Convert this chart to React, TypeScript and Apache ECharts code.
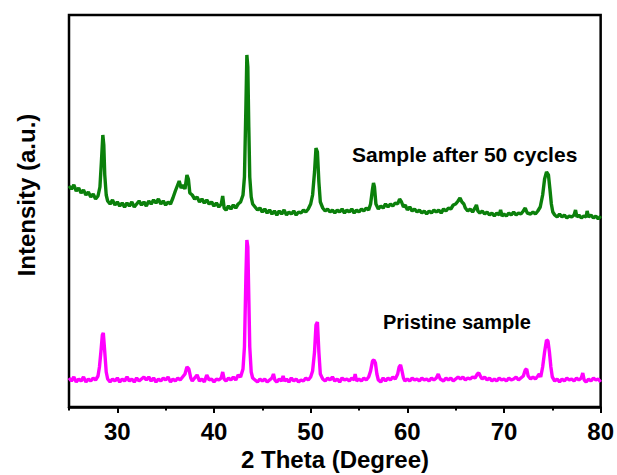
import React, { useEffect, useRef } from "react";
import * as echarts from "echarts";

// 2θ (degree) / intensity (a.u.) pairs
const afterCycles: [number, number][] = [
  [25.0, 221], [25.25, 218], [25.5, 222], [25.75, 216], [26.0, 219], [26.25, 214], [26.5, 217], [26.75, 212],
  [27.0, 215], [27.25, 210], [27.5, 213], [27.75, 208], [28.0, 211], [28.2, 220], [28.35, 245], [28.5, 272],
  [28.6, 262], [28.7, 232], [28.85, 212], [29.0, 206], [29.25, 203], [29.5, 207], [29.75, 202], [30.0, 205],
  [30.25, 201], [30.5, 204], [30.75, 200], [31.0, 204], [31.25, 201], [31.5, 205], [31.75, 200], [32.0, 203],
  [32.25, 206], [32.5, 202], [32.75, 205], [33.0, 201], [33.25, 206], [33.5, 203], [33.75, 207], [34.0, 204],
  [34.25, 208], [34.5, 203], [34.75, 206], [35.0, 202], [35.25, 205], [35.5, 203], [35.75, 209], [36.0, 216],
  [36.2, 221], [36.4, 226], [36.6, 219], [36.8, 222], [37.0, 218], [37.2, 232], [37.35, 228], [37.5, 214],
  [37.75, 212], [38.0, 208], [38.25, 210], [38.5, 205], [38.75, 208], [39.0, 204], [39.25, 207], [39.5, 203],
  [39.75, 205], [40.0, 201], [40.25, 204], [40.5, 200], [40.75, 203], [40.9, 211], [41.05, 199], [41.25, 197],
  [41.5, 201], [41.75, 198], [42.0, 202], [42.25, 199], [42.5, 203], [42.75, 205], [43.0, 212], [43.15, 230],
  [43.3, 300], [43.4, 352], [43.5, 340], [43.6, 280], [43.7, 230], [43.85, 210], [44.0, 203], [44.25, 200],
  [44.5, 197], [44.75, 199], [45.0, 195], [45.25, 198], [45.5, 194], [45.75, 197], [46.0, 193], [46.25, 196],
  [46.5, 192], [46.75, 196], [47.0, 193], [47.25, 197], [47.5, 192], [47.75, 195], [48.0, 193], [48.25, 196],
  [48.5, 192], [48.75, 195], [49.0, 194], [49.25, 197], [49.5, 195], [49.75, 198], [50.0, 203], [50.2, 212],
  [50.4, 235], [50.55, 259], [50.7, 255], [50.85, 225], [51.0, 205], [51.25, 199], [51.5, 196], [51.75, 198],
  [52.0, 195], [52.25, 197], [52.5, 194], [52.75, 197], [53.0, 195], [53.25, 198], [53.5, 194], [53.75, 197],
  [54.0, 195], [54.25, 198], [54.5, 194], [54.75, 197], [55.0, 195], [55.25, 198], [55.5, 196], [55.75, 199],
  [56.0, 197], [56.2, 203], [56.4, 218], [56.5, 224], [56.6, 220], [56.75, 203], [57.0, 198], [57.25, 201],
  [57.5, 199], [57.75, 203], [58.0, 200], [58.25, 203], [58.5, 201], [58.75, 204], [59.0, 203], [59.2, 208],
  [59.4, 205], [59.6, 200], [59.8, 202], [60.0, 197], [60.25, 200], [60.5, 196], [60.75, 198], [61.0, 195],
  [61.25, 197], [61.5, 194], [61.75, 196], [62.0, 193], [62.25, 196], [62.5, 194], [62.75, 197], [63.0, 195],
  [63.25, 197], [63.5, 194], [63.75, 198], [64.0, 196], [64.25, 199], [64.5, 198], [64.75, 202], [65.0, 203],
  [65.25, 206], [65.45, 209], [65.65, 205], [65.85, 203], [66.0, 199], [66.25, 196], [66.5, 198], [66.75, 195],
  [67.0, 199], [67.15, 202], [67.3, 196], [67.5, 194], [67.75, 196], [68.0, 193], [68.25, 195], [68.5, 192],
  [68.75, 194], [69.0, 191], [69.25, 194], [69.5, 192], [69.65, 197], [69.8, 191], [70.0, 193], [70.25, 191],
  [70.5, 194], [70.75, 192], [71.0, 195], [71.25, 192], [71.5, 194], [71.75, 193], [72.0, 196], [72.2, 199],
  [72.4, 194], [72.75, 193], [73.0, 195], [73.25, 193], [73.5, 196], [73.75, 200], [74.0, 212], [74.2, 228],
  [74.4, 235], [74.6, 232], [74.75, 218], [74.9, 203], [75.05, 195], [75.25, 192], [75.5, 190], [75.75, 193],
  [76.0, 190], [76.25, 192], [76.5, 189], [76.75, 191], [77.0, 190], [77.25, 192], [77.4, 197], [77.55, 190],
  [77.75, 192], [78.0, 189], [78.25, 191], [78.5, 190], [78.6, 196], [78.75, 190], [79.0, 192], [79.25, 189],
  [79.5, 191], [79.75, 188], [80.0, 191],
];

const pristine: [number, number][] = [
  [25.0, 29], [25.25, 26], [25.5, 30], [25.75, 25], [26.0, 28], [26.25, 26], [26.5, 30], [26.75, 25],
  [27.0, 28], [27.25, 26], [27.5, 29], [27.75, 27], [28.0, 31], [28.15, 40], [28.3, 55], [28.45, 72],
  [28.55, 74], [28.7, 55], [28.85, 35], [29.0, 28], [29.25, 25], [29.5, 28], [29.75, 26], [30.0, 29],
  [30.25, 25], [30.5, 28], [30.75, 26], [31.0, 30], [31.25, 26], [31.5, 28], [31.75, 25], [32.0, 29],
  [32.25, 26], [32.5, 28], [32.75, 30], [33.0, 27], [33.25, 30], [33.5, 26], [33.75, 29], [34.0, 25],
  [34.25, 28], [34.5, 26], [34.75, 29], [35.0, 27], [35.25, 30], [35.5, 25], [35.75, 28], [36.0, 26],
  [36.25, 29], [36.5, 27], [36.75, 30], [37.0, 33], [37.2, 40], [37.4, 38], [37.6, 29], [37.75, 26],
  [38.0, 29], [38.25, 32], [38.5, 26], [38.75, 28], [39.0, 25], [39.25, 32], [39.5, 27], [39.75, 28],
  [40.0, 25], [40.25, 28], [40.5, 27], [40.75, 29], [40.9, 35], [41.05, 28], [41.25, 26], [41.5, 29],
  [41.75, 27], [42.0, 30], [42.25, 27], [42.5, 32], [42.75, 30], [43.0, 38], [43.15, 60], [43.3, 130],
  [43.4, 167], [43.5, 160], [43.6, 110], [43.7, 60], [43.85, 35], [44.0, 29], [44.25, 27], [44.5, 25],
  [44.75, 28], [45.0, 26], [45.25, 28], [45.5, 25], [45.75, 27], [46.0, 29], [46.15, 33], [46.3, 27],
  [46.5, 25], [46.75, 28], [47.0, 26], [47.15, 31], [47.3, 26], [47.5, 28], [47.75, 25], [48.0, 29],
  [48.25, 26], [48.5, 28], [48.75, 25], [49.0, 27], [49.25, 26], [49.5, 29], [49.75, 27], [50.0, 30],
  [50.2, 36], [50.4, 55], [50.55, 82], [50.7, 85], [50.85, 55], [51.0, 33], [51.25, 28], [51.5, 26],
  [51.75, 29], [52.0, 27], [52.25, 30], [52.5, 26], [52.75, 28], [53.0, 25], [53.25, 29], [53.5, 27],
  [53.75, 28], [54.0, 26], [54.25, 29], [54.5, 27], [54.6, 33], [54.75, 26], [55.0, 28], [55.25, 26],
  [55.5, 29], [55.75, 27], [56.0, 30], [56.2, 36], [56.4, 46], [56.55, 47], [56.7, 44], [56.85, 33],
  [57.0, 27], [57.25, 25], [57.5, 29], [57.75, 26], [58.0, 29], [58.25, 27], [58.5, 30], [58.75, 28],
  [59.0, 33], [59.15, 40], [59.3, 42], [59.45, 36], [59.6, 29], [59.75, 26], [60.0, 28], [60.25, 26],
  [60.5, 29], [60.75, 27], [61.0, 28], [61.25, 26], [61.5, 29], [61.75, 27], [62.0, 28], [62.25, 26],
  [62.5, 29], [62.75, 27], [63.0, 29], [63.2, 33], [63.4, 28], [63.75, 26], [64.0, 29], [64.25, 27],
  [64.5, 29], [64.75, 26], [65.0, 28], [65.25, 30], [65.5, 28], [65.75, 30], [66.0, 27], [66.25, 29],
  [66.5, 28], [66.75, 30], [67.0, 29], [67.25, 33], [67.4, 34], [67.6, 30], [67.75, 28], [68.0, 30],
  [68.25, 27], [68.5, 29], [68.75, 26], [69.0, 28], [69.25, 26], [69.5, 29], [69.75, 27], [70.0, 28],
  [70.25, 26], [70.5, 29], [70.75, 27], [71.0, 28], [71.25, 30], [71.5, 27], [71.75, 29], [72.0, 31],
  [72.2, 37], [72.35, 38], [72.5, 31], [72.75, 28], [73.0, 30], [73.25, 28], [73.5, 31], [73.65, 33],
  [73.8, 30], [74.0, 40], [74.2, 55], [74.4, 67], [74.55, 66], [74.7, 55], [74.85, 40], [75.0, 30],
  [75.25, 26], [75.5, 28], [75.75, 25], [76.0, 28], [76.25, 26], [76.5, 29], [76.75, 27], [77.0, 28],
  [77.25, 26], [77.5, 29], [77.75, 27], [78.0, 29], [78.15, 34], [78.3, 27], [78.5, 25], [78.75, 28],
  [79.0, 26], [79.25, 29], [79.5, 27], [79.75, 28], [80.0, 25],
];

const majorTicks = [30, 40, 50, 60, 70, 80];
const minorTicks = [25, 35, 45, 55, 65, 75];
const seriesNames = ["Sample after 50 cycles", "Pristine sample"];
const xTitle = "2 Theta (Degree)";
const yTitle = "Intensity (a.u.)";

const FONT = "Arial, 'Liberation Sans', sans-serif";

export default function App() {
  const ref = useRef<HTMLDivElement>(null);
  useEffect(() => {
    if (!ref.current) return;
    const chart = echarts.init(ref.current, null, { renderer: "svg" });
    chart.setOption({
      animation: false,
      backgroundColor: "#ffffff",
      grid: {
        left: 69,
        right: 16,
        top: 15,
        bottom: 68,
        show: true,
        borderColor: "#000",
        borderWidth: 2.5,
        backgroundColor: "transparent",
      },
      xAxis: [
        {
          type: "value",
          min: 25,
          max: 80,
          interval: 5,
          splitLine: { show: false },
          axisLine: { show: true, lineStyle: { color: "#000", width: 2.5 } },
          axisTick: { show: true, customValues: majorTicks, length: 6, lineStyle: { color: "#000", width: 2 } },
          axisLabel: {
            customValues: majorTicks,
            color: "#000",
            fontSize: 24,
            fontWeight: "bold",
            fontFamily: FONT,
            margin: 12,
          },
        },
        {
          type: "value",
          min: 25,
          max: 80,
          interval: 5,
          position: "bottom",
          splitLine: { show: false },
          axisLine: { show: false },
          axisTick: { show: true, customValues: minorTicks, length: 3.5, lineStyle: { color: "#000", width: 2 } },
          axisLabel: { show: false },
        },
      ],
      yAxis: {
        type: "value",
        min: 0,
        max: 392,
        show: true,
        splitLine: { show: false },
        axisLine: { show: false },
        axisTick: { show: false },
        axisLabel: { show: false },
      },
      series: [
        {
          name: seriesNames[0],
          type: "line",
          data: afterCycles,
          showSymbol: false,
          symbol: "none",
          lineStyle: { color: "#0b800b", width: 3.4 },
          z: 3,
        },
        {
          name: seriesNames[1],
          type: "line",
          data: pristine,
          showSymbol: false,
          symbol: "none",
          lineStyle: { color: "#ff00ff", width: 3.4 },
          z: 3,
        },
      ],
      graphic: [
        {
          type: "text",
          left: 352,
          top: 144,
          style: { text: seriesNames[0], fill: "#000", font: `bold 21px ${FONT}` },
        },
        {
          type: "text",
          left: 383,
          top: 312,
          style: { text: seriesNames[1], fill: "#000", font: `bold 20px ${FONT}` },
        },
        {
          type: "text",
          x: 335,
          y: 459,
          style: { text: xTitle, fill: "#000", font: `bold 24px ${FONT}`, align: "center", verticalAlign: "middle" },
        },
        {
          type: "text",
          x: 26,
          y: 195,
          rotation: Math.PI / 2,
          style: { text: yTitle, fill: "#000", font: `bold 24px ${FONT}`, align: "center", verticalAlign: "middle" },
        },
      ],
    });
    return () => chart.dispose();
  }, []);
  return <div ref={ref} style={{ position: "fixed", left: 0, top: 0, width: 617, height: 475 }} />;
}
